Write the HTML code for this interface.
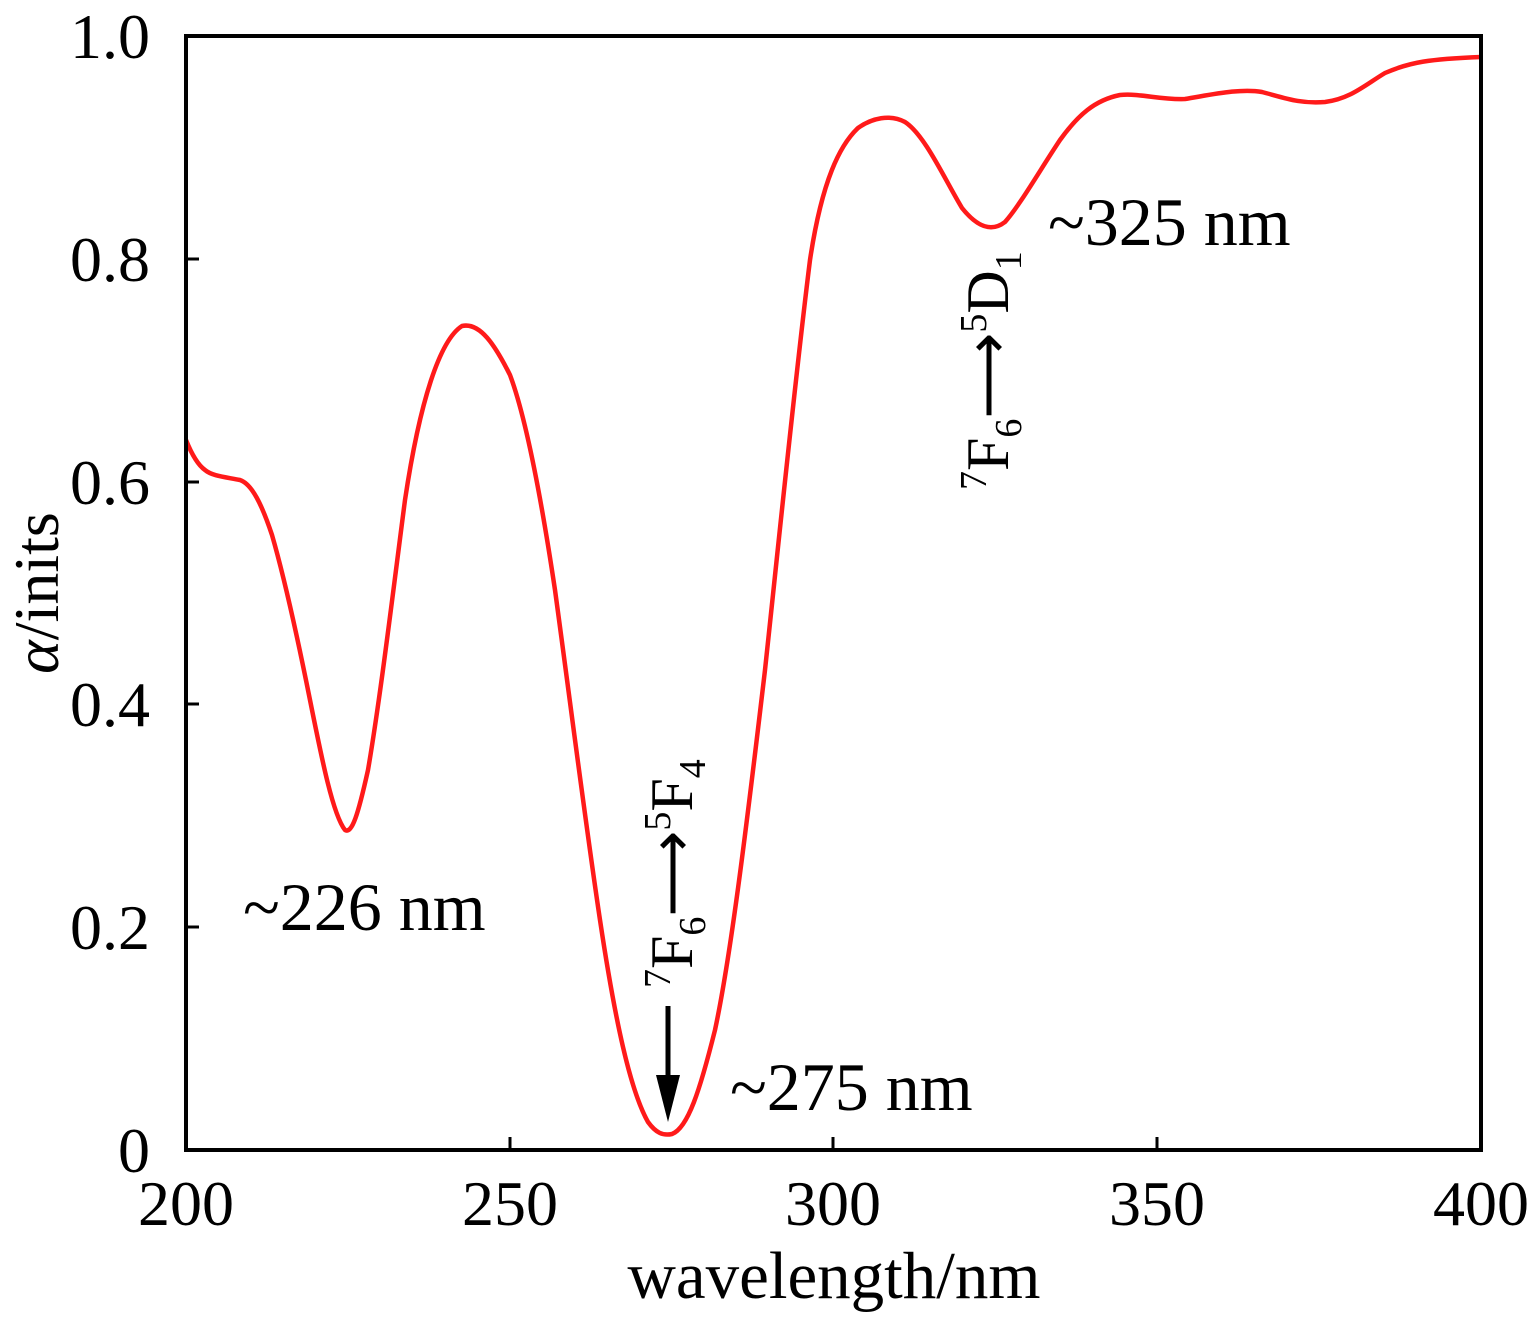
<!DOCTYPE html>
<html><head><style>body{margin:0;background:#fff}svg{display:block}</style></head><body>
<svg width="1535" height="1318" viewBox="0 0 1535 1318" xmlns="http://www.w3.org/2000/svg" font-family="Liberation Serif, serif">
<rect width="1535" height="1318" fill="#fff"/>
<path fill="none" stroke="#ff1a1a" stroke-width="4.5" stroke-linejoin="round" d="M186,440 C192,455 198,465 205,470 C212,476 225,477 240,480 C252,484 262,505 272,535 C285,580 298,640 310,700 C322,760 333,815 345,830 C352,834 358,815 368,770 C380,700 392,600 405,500 C420,400 440,340 462,326 C480,322 495,345 510,375 C525,415 540,490 555,590 C570,700 585,820 600,920 C615,1020 630,1090 648,1122 C656,1133 663,1136 672,1134 C688,1128 700,1090 715,1030 C730,960 745,840 765,670 C780,530 795,380 810,260 C822,180 840,145 858,128 C872,118 890,114 905,122 C925,135 945,180 962,208 C978,228 992,232 1005,222 C1020,205 1040,170 1060,140 C1078,115 1095,100 1120,95 C1140,93 1160,100 1185,99 C1210,95 1240,88 1262,92 C1285,98 1300,104 1325,102 C1350,99 1365,85 1385,73 C1410,62 1430,59 1481,57"/>
<rect x="186" y="36" width="1295" height="1114" fill="none" stroke="#000" stroke-width="4"/>
<g stroke="#000" stroke-width="3">
<line x1="510" y1="1150" x2="510" y2="1137"/><line x1="833" y1="1150" x2="833" y2="1137"/><line x1="1157" y1="1150" x2="1157" y2="1137"/>
<line x1="186" y1="927" x2="199" y2="927"/><line x1="186" y1="704" x2="199" y2="704"/><line x1="186" y1="482" x2="199" y2="482"/><line x1="186" y1="259" x2="199" y2="259"/>
</g>
<g font-size="64" fill="#000" text-anchor="middle">
<text x="186" y="1225">200</text><text x="510" y="1225">250</text><text x="833" y="1225">300</text><text x="1157" y="1225">350</text><text x="1481" y="1225">400</text>
<text x="834" y="1298" font-size="67">wavelength/nm</text>
</g>
<g font-size="64" fill="#000" text-anchor="end">
<text x="150" y="1172">0</text><text x="150" y="949">0.2</text><text x="150" y="726">0.4</text><text x="150" y="504">0.6</text><text x="150" y="281">0.8</text><text x="150" y="58">1.0</text>
</g>
<text transform="translate(58,593) rotate(-90)" font-size="64" text-anchor="middle"><tspan font-style="italic">α</tspan>/inits</text>
<g font-size="68" fill="#000">
<text x="243" y="930">~226 nm</text>
<text x="730" y="1110">~275 nm</text>
<text x="1048" y="245">~325 nm</text>
</g>
<text transform="translate(692,988) rotate(-90)" font-size="60">
<tspan font-size="38" dy="-22">7</tspan><tspan dy="22">F</tspan><tspan font-size="38" dy="13">6</tspan><tspan dy="-13">⟶</tspan><tspan font-size="38" dy="-22">5</tspan><tspan dy="22">F</tspan><tspan font-size="38" dy="13">4</tspan>
</text>
<text transform="translate(1008,490) rotate(-90)" font-size="60">
<tspan font-size="38" dy="-22">7</tspan><tspan dy="22">F</tspan><tspan font-size="38" dy="13">6</tspan><tspan dy="-13">⟶</tspan><tspan font-size="38" dy="-22">5</tspan><tspan dy="22">D</tspan><tspan font-size="38" dy="13">1</tspan>
</text>
<line x1="668" y1="1006" x2="668" y2="1090" stroke="#000" stroke-width="5"/>
<polygon points="656,1075 680,1075 668,1122" fill="#000"/>
</svg>
</body></html>
